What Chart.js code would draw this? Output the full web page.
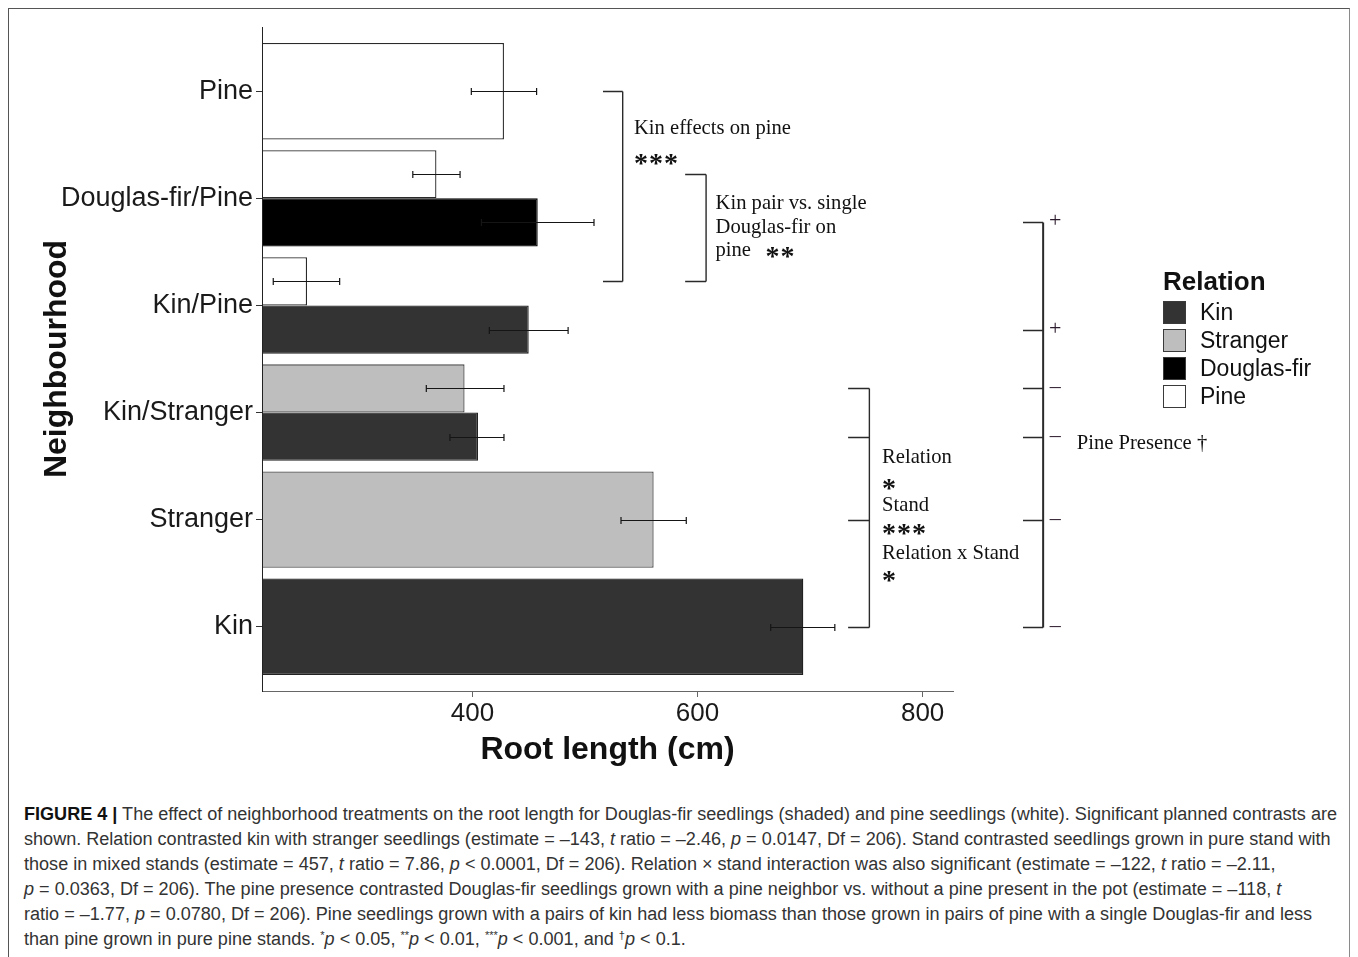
<!DOCTYPE html>
<html>
<head>
<meta charset="utf-8">
<script src="https://cdn.jsdelivr.net/npm/chart.js@4.4.1/dist/chart.umd.min.js"></script>
<style>
  html, body { margin: 0; padding: 0; background: #fff; }
  body { width: 1358px; height: 957px; position: relative; overflow: hidden; }
  #frame { position: absolute; left: 8px; top: 8px; width: 1342px; height: 1000px;
           border: 1px solid #555; border-right-color: #8a8a8a; box-sizing: border-box; }
  #chart { position: absolute; left: 0; top: 0; }
  #caption { position: absolute; left: 24px; top: 802px; white-space: nowrap;
             font-family: "Liberation Sans Narrow", "Liberation Sans", Arial, sans-serif;
             font-size: 18px; line-height: 25px; color: #333; transform-origin: 0 0; }
  #caption .line { display: block; }
  #caption .fig { font-weight: bold; color: #111; }
  #caption sup { font-size: 11px; line-height: 0; vertical-align: 6px; }
</style>
</head>
<body>
<div id="frame"></div>
<canvas id="chart" width="1358" height="770"></canvas>
<div id="caption">
  <span class="line" id="firstLine"><span class="fig">FIGURE 4 |</span> The effect of neighborhood treatments on the root length for Douglas-fir seedlings (shaded) and pine seedlings (white). Significant planned contrasts are</span>
  <span class="line">shown. Relation contrasted kin with stranger seedlings (estimate = –143, <i>t</i> ratio = –2.46, <i>p</i> = 0.0147, Df = 206). Stand contrasted seedlings grown in pure stand with</span>
  <span class="line">those in mixed stands (estimate = 457, <i>t</i> ratio = 7.86, <i>p</i> &lt; 0.0001, Df = 206). Relation × stand interaction was also significant (estimate = –122, <i>t</i> ratio = –2.11,</span>
  <span class="line"><i>p</i> = 0.0363, Df = 206). The pine presence contrasted Douglas-fir seedlings grown with a pine neighbor vs. without a pine present in the pot (estimate = –118, <i>t</i></span>
  <span class="line">ratio = –1.77, <i>p</i> = 0.0780, Df = 206). Pine seedlings grown with a pairs of kin had less biomass than those grown in pairs of pine with a single Douglas-fir and less</span>
  <span class="line">than pine grown in pure pine stands. <sup>*</sup><i>p</i> &lt; 0.05, <sup>**</sup><i>p</i> &lt; 0.01, <sup>***</sup><i>p</i> &lt; 0.001, and <sup>†</sup><i>p</i> &lt; 0.1.</span>
</div>
<script>
// Neighbourhood treatments, top to bottom
const categories = ['Pine', 'Douglas-fir/Pine', 'Kin/Pine', 'Kin/Stranger', 'Stranger', 'Kin'];
const relations = ['Kin', 'Stranger', 'Douglas-fir', 'Pine'];

// Mean root length (cm) with lower / upper error limits; null where the seedling is absent
const kinMean      = [null, null, 450, 405, null, 694];
const kinLow       = [null, null, 415, 380, null, 665];
const kinHigh      = [null, null, 485, 428, null, 722];

const strangerMean = [null, null, null, 393, 561, null];
const strangerLow  = [null, null, null, 359, 532, null];
const strangerHigh = [null, null, null, 428, 590, null];

const douglasMean  = [null, 458, null, null, null, null];
const douglasLow   = [null, 408, null, null, null, null];
const douglasHigh  = [null, 508, null, null, null, null];

const pineMean     = [428, 368, 253, null, null, null];
const pineLow      = [399, 347, 223, null, null, null];
const pineHigh     = [457, 389, 282, null, null, null];

const xTicks = [400, 600, 800];
const xRange = [213, 827];

// Planned-contrast labels
const contrastNotes = [
  { x: 543.5, y: 0.348, text: 'Kin effects on pine' },
  { x: 543.5, y: 0.619, text: '***', stars: true },
  { x: 616.0, y: 1.049, text: 'Kin pair vs. single' },
  { x: 616.0, y: 1.270, text: 'Douglas-fir on' },
  { x: 616.0, y: 1.487, text: 'pine' },
  { x: 660.5, y: 1.487, text: '**', stars: true },
  { x: 764.0, y: 3.423, text: 'Relation' },
  { x: 764.0, y: 3.651, text: '*', stars: true },
  { x: 764.0, y: 3.869, text: 'Stand' },
  { x: 764.0, y: 4.072, text: '***', stars: true },
  { x: 764.0, y: 4.315, text: 'Relation x Stand' },
  { x: 764.0, y: 4.513, text: '*', stars: true },
  { x: 937.0, y: 3.287, text: 'Pine Presence †' }
];

const PINE = 0, STRANGER = 1, DOUGLAS = 2, KIN = 3;
const brackets = [
  { from: 516, to: 533.5, width: 1.4, stops: [[PINE, 0], [PINE, 2]] },
  { from: 589, to: 607.6, width: 1.4, stops: [[PINE, 1], [PINE, 2]] },
  { from: 733.8, to: 752.7, width: 1.4, stops: [[STRANGER, 3], [KIN, 3], [STRANGER, 4], [KIN, 5]] },
  { from: 889.2, to: 907.1, width: 2, stops: [[DOUGLAS, 1], [KIN, 2], [STRANGER, 3], [KIN, 3], [STRANGER, 4], [KIN, 5]],
    signs: ['+', '+', '–', '–', '–', '–'] }
];

const points = vals => vals.map((v, i) => ({ x: v, y: i }));

const SANS = "'Liberation Sans', Arial, sans-serif";
const SERIF = "'Liberation Serif', 'Times New Roman', serif";

const errorBars = {
  id: 'errorBars',
  afterDatasetsDraw(chart) {
    const { ctx, chartArea } = chart;
    const xs = chart.scales.x;
    ctx.save();
    // keep the neighbourhood axis line visible over the bars
    ctx.strokeStyle = '#222';
    ctx.lineWidth = 1;
    ctx.beginPath();
    ctx.moveTo(Math.round(chartArea.left) + 0.5, chartArea.top);
    ctx.lineTo(Math.round(chartArea.left) + 0.5, chartArea.bottom);
    ctx.stroke();

    ctx.strokeStyle = '#151515';
    ctx.lineWidth = 1.2;
    chart.data.datasets.forEach((ds, di) => {
      const meta = chart.getDatasetMeta(di);
      meta.data.forEach((bar, i) => {
        if (ds.errLow[i] == null) return;
        const y = Math.round(bar.y) + 0.5;
        const x0 = xs.getPixelForValue(ds.errLow[i]);
        const x1 = xs.getPixelForValue(ds.errHigh[i]);
        ctx.beginPath();
        ctx.moveTo(x0, y); ctx.lineTo(x1, y);
        ctx.moveTo(x0, y - 3.5); ctx.lineTo(x0, y + 3.5);
        ctx.moveTo(x1, y - 3.5); ctx.lineTo(x1, y + 3.5);
        ctx.stroke();
      });
    });
    ctx.restore();
  }
};

const contrasts = {
  id: 'contrasts',
  afterDraw(chart) {
    const { ctx } = chart;
    const xs = chart.scales.x, ys = chart.scales.y;
    const centre = (d, c) => chart.getDatasetMeta(d).data[c].y;
    ctx.save();
    brackets.forEach(b => {
      const xa = xs.getPixelForValue(b.from), xb = xs.getPixelForValue(b.to);
      const yv = b.stops.map(([d, c]) => Math.round(centre(d, c)) + 0.5);
      ctx.strokeStyle = '#2a2a2a';
      ctx.lineWidth = b.width;
      ctx.beginPath();
      ctx.moveTo(xb, Math.min(...yv)); ctx.lineTo(xb, Math.max(...yv));
      ctx.stroke();
      ctx.lineWidth = 1.3;
      ctx.beginPath();
      yv.forEach(y => { ctx.moveTo(xa, y); ctx.lineTo(xb, y); });
      ctx.stroke();
      if (b.signs) {
        ctx.fillStyle = '#2b1a2b';
        ctx.font = '22px ' + SERIF;
        ctx.textAlign = 'center';
        ctx.textBaseline = 'middle';
        yv.forEach((y, k) => ctx.fillText(b.signs[k], xb + 12, y - 1));
      }
    });
    ctx.fillStyle = '#111';
    ctx.textAlign = 'left';
    contrastNotes.forEach(n => {
      const x = xs.getPixelForValue(n.x), y = ys.getPixelForValue(n.y);
      if (n.stars) {
        ctx.font = 'bold 28px ' + SERIF;
        ctx.letterSpacing = '1px';
        ctx.textBaseline = 'alphabetic';
        ctx.fillText(n.text, x, y + 14.5);
        ctx.letterSpacing = '0px';
      } else {
        ctx.font = '20.6px ' + SERIF;
        ctx.textBaseline = 'middle';
        ctx.fillText(n.text, x, y);
      }
    });
    ctx.restore();
  }
};

const relationLegend = {
  id: 'relationLegend',
  afterDraw(chart) {
    const { ctx } = chart;
    const left = 1163, size = 23, step = 28, firstTop = 301;
    ctx.save();
    ctx.fillStyle = '#111';
    ctx.font = 'bold 26px ' + SANS;
    ctx.textAlign = 'left';
    ctx.textBaseline = 'middle';
    ctx.fillText('Relation', left, 283);
    relations.forEach((name, k) => {
      const ds = chart.data.datasets.find(d => d.label === name);
      const top = firstTop + k * step;
      ctx.fillStyle = ds.backgroundColor;
      ctx.fillRect(left, top, size, size);
      ctx.strokeStyle = '#3a3a3a';
      ctx.lineWidth = 1;
      ctx.strokeRect(left + 0.5, top + 0.5, size - 1, size - 1);
      ctx.fillStyle = '#111';
      ctx.font = '23px ' + SANS;
      ctx.fillText(name, 1200, top + size / 2 + 1);
    });
    ctx.restore();
  }
};

new Chart(document.getElementById('chart'), {
  type: 'bar',
  data: {
    datasets: [
      { label: 'Pine', data: points(pineMean), errLow: pineLow, errHigh: pineHigh,
        backgroundColor: '#ffffff', borderColor: '#2a2a2a' },
      { label: 'Stranger', data: points(strangerMean), errLow: strangerLow, errHigh: strangerHigh,
        backgroundColor: '#bebebe', borderColor: '#4a4a4a' },
      { label: 'Douglas-fir', data: points(douglasMean), errLow: douglasLow, errHigh: douglasHigh,
        backgroundColor: '#000000', borderColor: '#000000' },
      { label: 'Kin', data: points(kinMean), errLow: kinLow, errHigh: kinHigh,
        backgroundColor: '#333333', borderColor: '#222222' }
    ]
  },
  options: {
    indexAxis: 'y',
    responsive: false,
    animation: false,
    devicePixelRatio: 1,
    datasets: { bar: { skipNull: true, categoryPercentage: 0.9, barPercentage: 1.0, borderWidth: 1.3 } },
    layout: { padding: { left: 0, top: 27, right: 405, bottom: 0 } },
    plugins: { legend: { display: false }, tooltip: { enabled: false } },
    scales: {
      x: {
        type: 'linear', min: xRange[0], max: xRange[1],
        afterBuildTicks: s => { s.ticks = xTicks.map(v => ({ value: v })); },
        afterFit: s => { s.height = 79; },
        grid: { drawOnChartArea: false, drawTicks: true, tickLength: 6, color: '#666' },
        border: { display: true, color: '#666', width: 1 },
        ticks: { color: '#1a1a1a', padding: 1, font: { family: SANS, size: 26 } },
        title: { display: true, text: 'Root length (cm)', color: '#111',
                 font: { family: SANS, size: 32, weight: 'bold' }, padding: { top: 0, bottom: 1 } }
      },
      y: {
        type: 'linear', reverse: true, offset: false,
        min: -0.6, max: categories.length - 0.4,
        afterBuildTicks: s => { s.ticks = categories.map((_, i) => ({ value: i })); },
        afterFit: s => { s.width = 262; },
        grid: { offset: false, drawOnChartArea: false, drawTicks: true, tickLength: 6, color: '#333' },
        border: { display: true, color: '#222', width: 1 },
        ticks: { color: '#1a1a1a', padding: 3, autoSkip: false,
                 font: { family: SANS, size: 27 }, callback: v => categories[v] },
        title: { display: true, text: 'Neighbourhood', color: '#111',
                 font: { family: SANS, size: 32, weight: 'bold' }, padding: { top: 38, bottom: 0 } }
      }
    }
  },
  plugins: [errorBars, contrasts, relationLegend]
});

// Stretch the caption so its first line spans the caption width
(document.fonts ? document.fonts.ready : Promise.resolve()).then(() => {
  const cap = document.getElementById('caption');
  const first = document.getElementById('firstLine');
  first.style.display = 'inline-block';
  const w = first.getBoundingClientRect().width;
  first.style.display = 'block';
  cap.style.transform = 'scaleX(' + (1313 / w) + ')';
});
</script>
</body>
</html>
